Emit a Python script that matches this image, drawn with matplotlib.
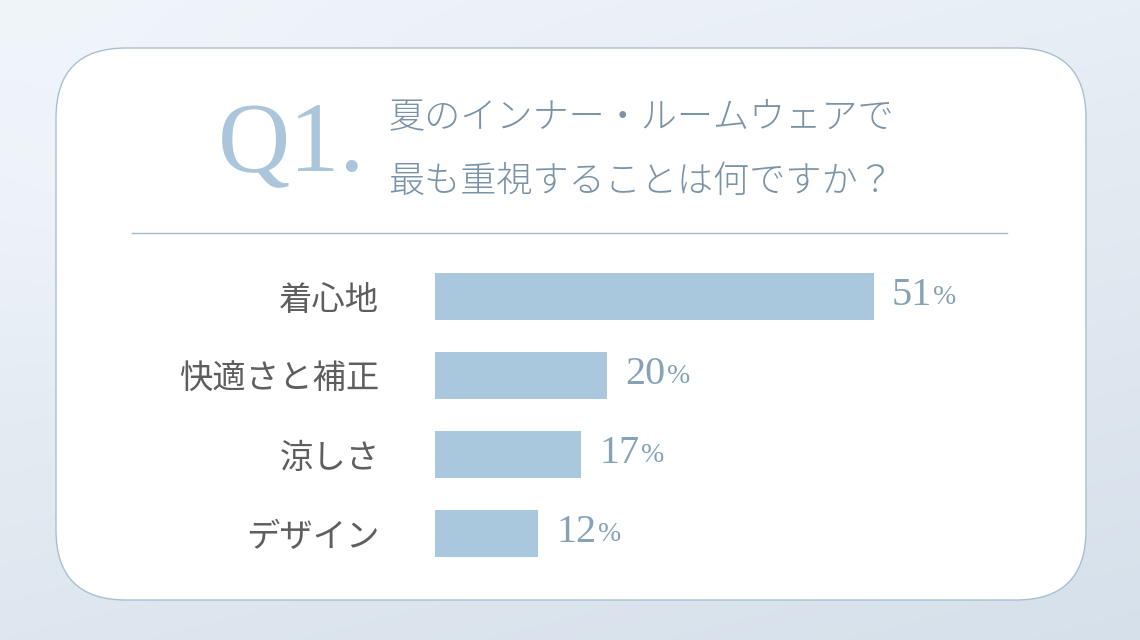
import numpy as np
import matplotlib.pyplot as plt
from matplotlib.patches import FancyBboxPatch

plt.rcParams['font.family'] = ['Noto Sans CJK JP', 'DejaVu Sans']

# data
labels = ['着心地', '快適さと補正', '涼しさ', 'デザイン']
values = [51, 20, 17, 12]
qnum = 'Q1.'
question = ['夏のインナー・ルームウェアで', '最も重視することは何ですか？']

W, H = 1140, 640
fig = plt.figure(figsize=(W / 100, H / 100), dpi=100)

# background + card, in pixel coords
bg = fig.add_axes([0, 0, 1, 1])
bg.set_xlim(0, W)
bg.set_ylim(H, 0)
bg.axis('off')
yy, xx = np.mgrid[0:1:200j, 0:1:300j]
grad = 0.55 * yy + 0.25 * xx - 0.15 * np.exp(-((xx - 0.15) ** 2 + (yy - 0.3) ** 2) / 0.05)
c0 = np.array([0.94, 0.96, 0.98])
c1 = np.array([0.84, 0.88, 0.92])
t = (grad - grad.min()) / (grad.max() - grad.min())
img = c0[None, None, :] * (1 - t[..., None]) + c1[None, None, :] * t[..., None]
bg.imshow(img, extent=[0, W, H, 0], aspect='auto', zorder=0)

card = FancyBboxPatch((56 + 70, 48 + 70), 1030 - 140, 552 - 140,
                      boxstyle='round,pad=70', fc='white', ec='#a9bfd0', lw=1.0, zorder=1)
bg.add_patch(card)

bg.text(292, 146, qnum, fontsize=72, family=['Liberation Serif'], color='#abc6db',
        ha='center', va='center', zorder=2)
bg.text(388, 118, question[0], fontsize=26, color='#7b93a7', ha='left', va='center',
        fontweight='light', zorder=2)
bg.text(388, 182, question[1], fontsize=26, color='#7b93a7', ha='left', va='center',
        fontweight='light', zorder=2)
bg.plot([132, 1007], [233, 233], color='#a3b8c9', lw=1.0, zorder=2)

# bars
ax = fig.add_axes([435 / W, 1 - 573 / H, 565 / W, 316 / H])
ax.patch.set_alpha(0)
ypos = np.arange(len(labels))
ax.barh(ypos, values, height=0.595, color='#a9c8dd')
ax.set_xlim(0, 565 / 8.6)
ax.set_ylim(len(labels) - 0.5, -0.5)
ax.set_yticks(ypos, labels, fontsize=24, color='#5e5e5e')
ax.tick_params(axis='y', length=0, pad=40)
ax.set_xticks([])
for s in ax.spines.values():
    s.set_visible(False)

fig.canvas.draw()
r = fig.canvas.get_renderer()
for y, v in zip(ypos, values):
    tn = ax.annotate(str(v), (v, y), xytext=(13, 1), textcoords='offset points',
                     fontsize=29, family=['Liberation Serif'], color='#86a2b6',
                     ha='left', va='center')
    bb = tn.get_window_extent(r)
    ax.annotate('%', (v, y), xytext=(13 + bb.width * 0.72 + 1, -1), textcoords='offset points',
                fontsize=20, family=['Liberation Serif'], color='#86a2b6',
                ha='left', va='center')

fig.savefig('out.png', dpi=100)
